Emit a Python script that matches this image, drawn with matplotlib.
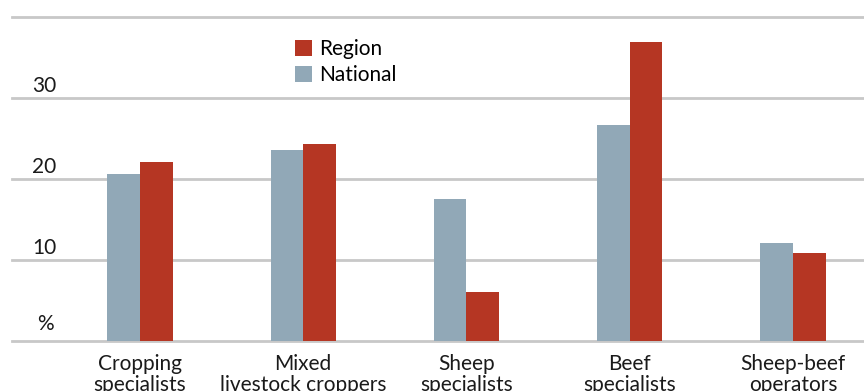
import numpy as np
import matplotlib
matplotlib.use("Agg")
import matplotlib.pyplot as plt
from matplotlib.transforms import blended_transform_factory

plt.rcParams['font.family'] = ['Lato', 'DejaVu Sans']

categories = ["Cropping\nspecialists", "Mixed\nlivestock croppers", "Sheep\nspecialists",
              "Beef\nspecialists", "Sheep-beef\noperators"]
national = [20.6, 23.5, 17.5, 26.6, 12.0]
region = [22.0, 24.3, 6.0, 36.9, 10.8]
yticks = [0, 10, 20, 30, 40]
ytick_labels = ["%", "10", "20", "30", ""]

national_color = "#91a8b7"
region_color = "#b53623"
grid_color = "#c8c8c8"

W, H = 864, 391
fig = plt.figure(figsize=(W / 100, H / 100), dpi=100)
ax = fig.add_axes([12 / W, (H - 340.5) / H, (W - 12) / W, (340.5 - 16.5) / H])

x = np.arange(len(categories))
w = 0.2
ax.bar(x - w / 2, national, w, color=national_color, label="National", zorder=3)
ax.bar(x + w / 2, region, w, color=region_color, label="Region", zorder=3)

ax.set_xlim(-0.784, 4.435)
ax.set_ylim(0, 40)
for yv in yticks:
    ax.axhline(yv, color=grid_color, lw=2, zorder=1, clip_on=False)

for s in ax.spines.values():
    s.set_visible(False)
ax.set_yticks([])
ax.set_xticks(x)
ax.set_xticklabels(categories, fontsize=15, color="#1a1a1a", linespacing=1.05)
ax.tick_params(axis="x", length=0, pad=10)

trans = blended_transform_factory(ax.transAxes, ax.transData)
for yv, lab in zip(yticks, ytick_labels):
    if not lab:
        continue
    if lab == "%":
        xpos, off = 25, 0.8
    else:
        xpos, off = 20, 0.2
    ax.text(xpos / (W - 12), yv + off, lab, transform=trans, fontsize=15,
            color="#1a1a1a", ha="left", va="bottom")

handles, labels = ax.get_legend_handles_labels()
ax.legend(handles[::-1], labels[::-1], loc="upper left",
          bbox_to_anchor=(275 / (W - 12), 1 - 14 / 324), frameon=False, fontsize=15,
          handlelength=0.8, handleheight=0.8, handletextpad=0.35, labelspacing=0.3,
          borderaxespad=0)

fig.savefig("out.png", dpi=100)
